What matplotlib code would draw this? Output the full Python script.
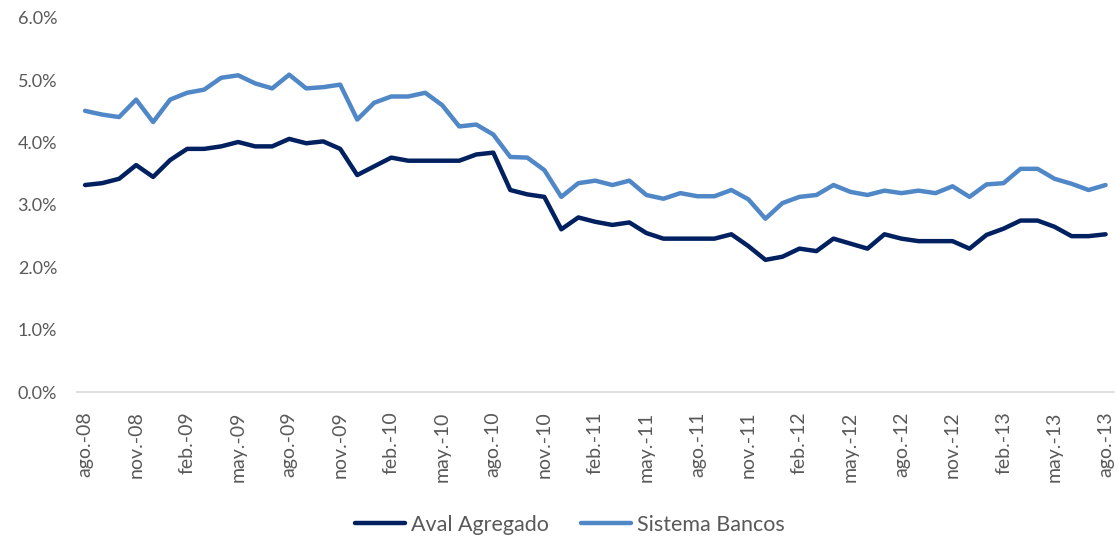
import matplotlib
matplotlib.use("Agg")
import matplotlib.pyplot as plt
from matplotlib.ticker import FuncFormatter

# monthly data, ago-08 .. ago-13 (61 months), values in %
months = ["ago.-08", "sep.-08", "oct.-08", "nov.-08", "dic.-08", "ene.-09", "feb.-09", "mar.-09",
          "abr.-09", "may.-09", "jun.-09", "jul.-09", "ago.-09", "sep.-09", "oct.-09", "nov.-09",
          "dic.-09", "ene.-10", "feb.-10", "mar.-10", "abr.-10", "may.-10", "jun.-10", "jul.-10",
          "ago.-10", "sep.-10", "oct.-10", "nov.-10", "dic.-10", "ene.-11", "feb.-11", "mar.-11",
          "abr.-11", "may.-11", "jun.-11", "jul.-11", "ago.-11", "sep.-11", "oct.-11", "nov.-11",
          "dic.-11", "ene.-12", "feb.-12", "mar.-12", "abr.-12", "may.-12", "jun.-12", "jul.-12",
          "ago.-12", "sep.-12", "oct.-12", "nov.-12", "dic.-12", "ene.-13", "feb.-13", "mar.-13",
          "abr.-13", "may.-13", "jun.-13", "jul.-13", "ago.-13"]

aval_agregado = [3.32, 3.35, 3.42, 3.64, 3.45, 3.72, 3.90, 3.90, 3.94, 4.01, 3.94, 3.94,
                 4.06, 3.99, 4.02, 3.90, 3.48, 3.62, 3.76, 3.71, 3.71, 3.71, 3.71, 3.81,
                 3.84, 3.24, 3.17, 3.13, 2.61, 2.80, 2.73, 2.68, 2.72, 2.55, 2.46, 2.46,
                 2.46, 2.46, 2.53, 2.34, 2.12, 2.17, 2.30, 2.26, 2.46, 2.38, 2.30, 2.53,
                 2.46, 2.42, 2.42, 2.42, 2.30, 2.52, 2.62, 2.75, 2.75, 2.65, 2.50, 2.50,
                 2.53]

sistema_bancos = [4.51, 4.45, 4.41, 4.69, 4.33, 4.69, 4.80, 4.85, 5.04, 5.08, 4.95, 4.87,
                  5.09, 4.87, 4.89, 4.93, 4.37, 4.64, 4.74, 4.74, 4.80, 4.60, 4.26, 4.29,
                  4.13, 3.77, 3.76, 3.56, 3.13, 3.35, 3.39, 3.32, 3.39, 3.16, 3.10, 3.19,
                  3.14, 3.14, 3.24, 3.09, 2.78, 3.03, 3.13, 3.16, 3.32, 3.21, 3.16, 3.23,
                  3.19, 3.23, 3.19, 3.30, 3.13, 3.33, 3.35, 3.58, 3.58, 3.42, 3.34, 3.24,
                  3.32]

plt.rcParams['font.family'] = ['Lato', 'DejaVu Sans']

fig = plt.figure(figsize=(11.18, 5.39), dpi=100)
ax = fig.add_axes([0.0685, 0.2727, 0.928, 0.694])

x = list(range(len(months)))
ax.plot(x, aval_agregado, color='#002060', lw=3.2, label='Aval Agregado', solid_capstyle='round')
ax.plot(x, sistema_bancos, color='#5087C7', lw=3.2, label='Sistema Bancos', solid_capstyle='round')

ax.set_xlim(-0.5, len(months) - 0.5)
ax.set_ylim(0, 6)
ax.set_yticks([0, 1, 2, 3, 4, 5, 6])
ax.yaxis.set_major_formatter(FuncFormatter(lambda v, p: "%.1f%%" % v))

ax.set_xticks(x[::3])
ax.set_xticklabels(months[::3], rotation=90)

for s in ['top', 'right', 'left']:
    ax.spines[s].set_visible(False)
ax.spines['bottom'].set_color('#D9D9D9')
ax.spines['bottom'].set_linewidth(1.2)

ax.tick_params(axis='both', length=0, colors='#595959', labelsize=13)
ax.tick_params(axis='x', pad=14, labelsize=14)
ax.tick_params(axis='y', pad=14)

leg = fig.legend(loc='center', bbox_to_anchor=(0.51, 0.026), ncol=2, frameon=False,
                 fontsize=15.5, handlelength=2.3, columnspacing=1.5, handletextpad=0.3)
for t in leg.get_texts():
    t.set_color('#595959')

fig.savefig('out.png', dpi=100)
